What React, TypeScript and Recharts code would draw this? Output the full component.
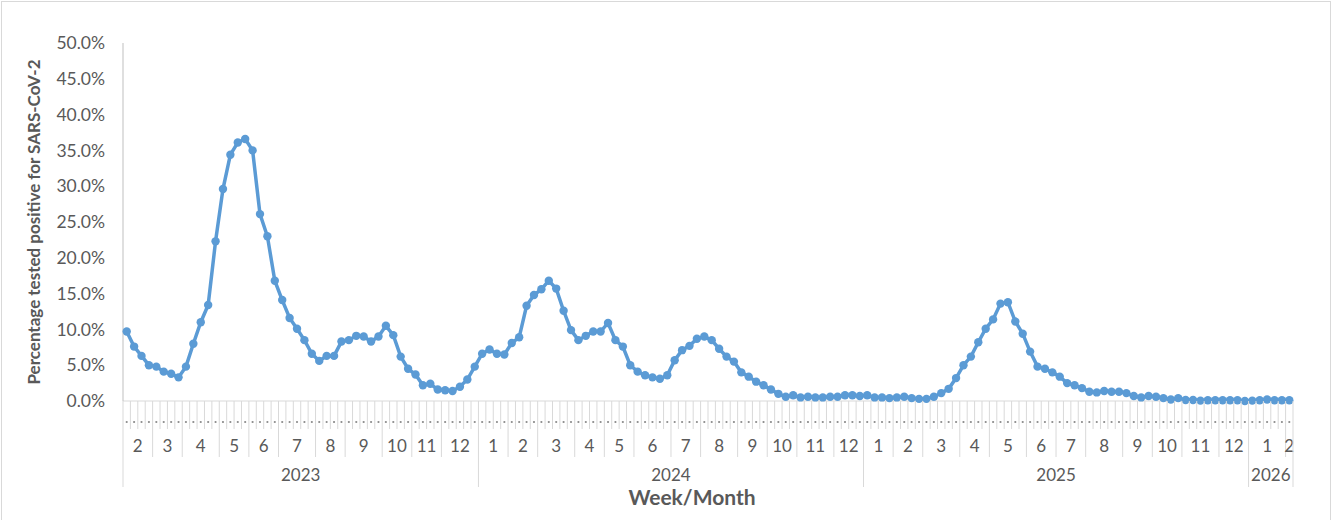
import React from 'react';
import { LineChart, Line, XAxis, YAxis } from 'recharts';

// ---- data ----
const yearLabels = ['2023', '2024', '2025', '2026'];
const firstMonthOfYear = [2, 1, 1, 1];
// weeks (week ending Saturday) per month, per year
const weeksPerMonth = [
  [4, 4, 5, 4, 4, 5, 4, 5, 4, 4, 5],
  [4, 4, 5, 4, 4, 5, 4, 5, 4, 4, 5, 4],
  [4, 4, 5, 4, 5, 4, 4, 5, 4, 4, 5, 4],
  [5, 1],
];
const positivity2023 = [
  9.7, 7.6, 6.3, 5.0, 4.8, 4.1, 3.8, 3.3, 4.8, 8.0, 11.0, 13.4, 22.3, 29.6, 34.4, 36.1,
  36.6, 35.0, 26.1, 23.0, 16.8, 14.1, 11.6, 10.1, 8.5, 6.6, 5.6, 6.3, 6.3, 8.3, 8.5, 9.1,
  9.0, 8.3, 9.0, 10.5, 9.2, 6.2, 4.5, 3.7, 2.2, 2.4, 1.6, 1.5, 1.4, 2.0, 3.0, 4.8,
];
const positivity2024 = [
  6.6, 7.2, 6.6, 6.5, 8.1, 8.9, 13.3, 14.8, 15.6, 16.8, 15.7, 12.6, 9.9, 8.5, 9.1, 9.7,
  9.7, 10.9, 8.5, 7.6, 5.0, 4.1, 3.6, 3.3, 3.1, 3.6, 5.7, 7.1, 7.7, 8.7, 9.0, 8.5,
  7.3, 6.2, 5.5, 4.0, 3.4, 2.7, 2.2, 1.6, 1.0, 0.6, 0.8, 0.5, 0.6, 0.5, 0.5, 0.6,
  0.6, 0.8, 0.8, 0.7,
];
const positivity2025 = [
  0.8, 0.5, 0.5, 0.4, 0.5, 0.6, 0.4, 0.3, 0.3, 0.6, 1.1, 1.7, 3.2, 5.0, 6.2, 8.2,
  10.1, 11.4, 13.6, 13.8, 11.1, 9.4, 6.9, 4.8, 4.5, 4.0, 3.4, 2.5, 2.2, 1.8, 1.3, 1.2,
  1.4, 1.3, 1.3, 1.1, 0.7, 0.5, 0.7, 0.6, 0.4, 0.2, 0.4, 0.15, 0.15, 0.05, 0.1, 0.1,
  0.1, 0.1, 0.1, 0.0,
];
const positivity2026 = [0.05, 0.1, 0.2, 0.1, 0.1, 0.1];
const yTicks = [0, 5, 10, 15, 20, 25, 30, 35, 40, 45, 50];

// ---- layout constants ----
const W = 1332;
const H = 520;
const MARGIN = { top: 43, right: 39, bottom: 0, left: 0 };
const Y_AXIS_W = 123;
const X_AXIS_H = 119;
const PLOT_W = W - MARGIN.left - MARGIN.right - Y_AXIS_W;
const PLOT_BOTTOM = H - MARGIN.bottom - X_AXIS_H;
const FONT = 'Lato, "Open Sans", sans-serif';
const TEXT = '#595959';
const LINE_GRAY = '#d9d9d9';

// ---- build rows ----
const allValues = [...positivity2023, ...positivity2024, ...positivity2025, ...positivity2026];
type Row = {
  idx: number;
  v: number;
  monthStart: string | null;
  monthWeeks: number;
  yearStart: string | null;
  yearWeeks: number;
};
const rows: Row[] = [];
{
  let k = 0;
  weeksPerMonth.forEach((months, y) => {
    const yWeeks = months.reduce((a, b) => a + b, 0);
    months.forEach((wk, m) => {
      for (let w = 0; w < wk; w++) {
        rows.push({
          idx: k,
          v: allValues[k],
          monthStart: w === 0 ? String(firstMonthOfYear[y] + m) : null,
          monthWeeks: wk,
          yearStart: w === 0 && m === 0 ? yearLabels[y] : null,
          yearWeeks: yWeeks,
        });
        k++;
      }
    });
  });
}
const N = rows.length;
const BAND = PLOT_W / N;

const AxisTick = (props: any) => {
  const { x, payload } = props;
  const i: number = payload.index ?? payload.value;
  const r = rows[i];
  if (!r) return null;
  const left = x - BAND / 2;
  const y0 = PLOT_BOTTOM;
  const lineEnd = r.yearStart ? y0 + 86 : r.monthStart ? y0 + 56 : y0 + 28;
  return (
    <g>
      <line x1={left} x2={left} y1={y0} y2={lineEnd} stroke={LINE_GRAY} strokeWidth={1} />
      <circle cx={x} cy={y0 + 21} r={1.1} fill="#8a8a8a" />
      {r.monthStart && (
        <text
          x={left + (r.monthWeeks * BAND) / 2}
          y={y0 + 51}
          textAnchor="middle"
          fontSize={17}
          fill={TEXT}
          fontFamily={FONT}
        >
          {r.monthStart}
        </text>
      )}
      {r.yearStart && (
        <text
          x={left + (r.yearWeeks * BAND) / 2}
          y={y0 + 80}
          textAnchor="middle"
          fontSize={17}
          fill={TEXT}
          fontFamily={FONT}
        >
          {r.yearStart}
        </text>
      )}
      {i === N - 1 && (
        <line x1={left + BAND} x2={left + BAND} y1={y0} y2={y0 + 86} stroke={LINE_GRAY} strokeWidth={1} />
      )}
    </g>
  );
};

export default function App() {
  return (
    <div style={{ position: 'absolute', left: 0, top: 0, width: W, height: H, overflow: 'hidden', background: '#fff' }}>
      <div
        style={{
          position: 'absolute',
          left: 1,
          top: 1,
          width: W - 4,
          height: H + 20,
          border: '1px solid #d9d9d9',
        }}
      />
      <LineChart width={W} height={H} data={rows} margin={MARGIN}>
        <XAxis
          dataKey="idx"
          type="category"
          scale="band"
          interval={0}
          height={X_AXIS_H}
          tickLine={false}
          tickSize={0}
          tickMargin={0}
          axisLine={{ stroke: LINE_GRAY, strokeWidth: 1 }}
          tick={<AxisTick />}
          label={(p: any) => {
            const vb = p.viewBox || {};
            return (
              <text
                x={(vb.x ?? Y_AXIS_W) + (vb.width ?? PLOT_W) / 2 - 16}
                y={PLOT_BOTTOM + 104}
                textAnchor="middle"
                fontSize={21}
                fontWeight="bold"
                fill={TEXT}
                fontFamily={FONT}
              >
                Week/Month
              </text>
            );
          }}
        />
        <YAxis
          width={Y_AXIS_W}
          domain={[0, 50]}
          ticks={yTicks}
          interval={0}
          tickFormatter={(v: number) => v.toFixed(1) + '%'}
          tickLine={false}
          tickSize={0}
          tickMargin={18}
          axisLine={{ stroke: '#bfbfbf', strokeWidth: 1 }}
          tick={{ fontSize: 17.5, fill: TEXT, fontFamily: FONT }}
          label={(p: any) => {
            const vb = p.viewBox || {};
            const cx = 33;
            const cy = (vb.y ?? MARGIN.top) + (vb.height ?? 358) / 2;
            return (
              <text
                x={cx}
                y={cy}
                transform={`rotate(-90 ${cx} ${cy})`}
                textAnchor="middle"
                dominantBaseline="central"
                fontSize={17}
                fontWeight="bold"
                fill={TEXT}
                fontFamily={FONT}
              >
                Percentage tested positive for SARS-CoV-2
              </text>
            );
          }}
        />
        <Line
          dataKey="v"
          stroke="#5b9bd5"
          strokeWidth={3.5}
          dot={{ r: 4.2, fill: '#5b9bd5', stroke: '#5b9bd5', strokeWidth: 0 }}
          activeDot={false}
          isAnimationActive={false}
        />
      </LineChart>
    </div>
  );
}
